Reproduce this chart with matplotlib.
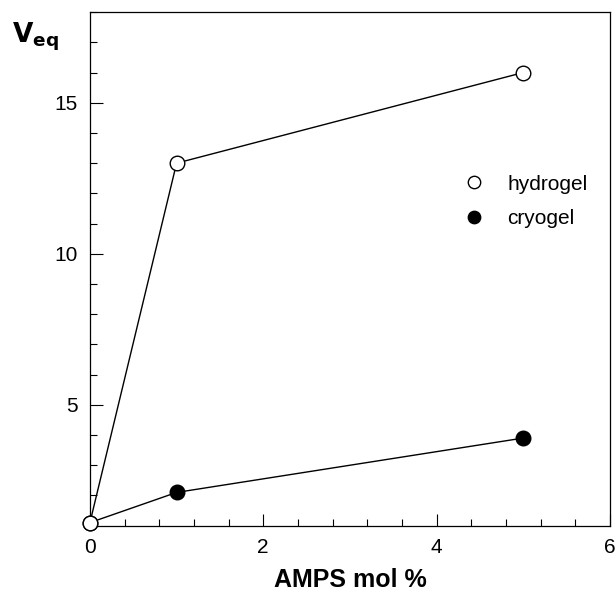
import matplotlib.pyplot as plt
from matplotlib.ticker import MultipleLocator

plt.rcParams['font.family'] = ['Liberation Sans', 'DejaVu Sans']

amps = [0, 1, 5]
hydrogel = [1.1, 13.0, 16.0]
cryogel = [1.1, 2.1, 3.9]

fig = plt.figure(figsize=(6.16, 6.07), dpi=100)
ax = fig.add_axes([0.146, 0.134, 0.844, 0.846])

ax.plot(amps, cryogel, color='black', lw=1, marker='o', ms=10.5,
        mfc='black', mec='black', label='cryogel', zorder=3, clip_on=False)
ax.plot(amps, hydrogel, color='black', lw=1, marker='o', ms=10.5,
        mfc='white', mec='black', label='hydrogel', zorder=4, clip_on=False)

ax.set_xlim(0, 6)
ax.set_ylim(1, 18)
ax.xaxis.set_major_locator(MultipleLocator(2))
ax.xaxis.set_minor_locator(MultipleLocator(0.4))
ax.set_yticks([5, 10, 15])
ax.yaxis.set_minor_locator(MultipleLocator(1))
ax.tick_params(which='both', direction='in', top=False, right=False,
               labelsize=15, width=0.8)
ax.tick_params(which='major', length=9, pad=9)
ax.tick_params(which='minor', length=5)
for s in ax.spines.values():
    s.set_linewidth(0.9)

handles, labels = ax.get_legend_handles_labels()
leg = ax.legend(handles[::-1], labels[::-1], loc='upper left',
                bbox_to_anchor=(0.69, 0.72), frameon=False, fontsize=15,
                handlelength=0.6, handletextpad=1.3, labelspacing=0.75,
                markerscale=0.85)
for h in leg.get_lines():
    h.set_linestyle('none')

fig.text(0.02, 0.93, r'$\mathbf{V}_{\mathbf{eq}}$', fontsize=19,
         fontweight='bold')
fig.text(0.568, 0.044, 'AMPS mol %', fontsize=18, fontweight='bold',
         ha='center', va='center')

fig.savefig('out.png', dpi=100)
